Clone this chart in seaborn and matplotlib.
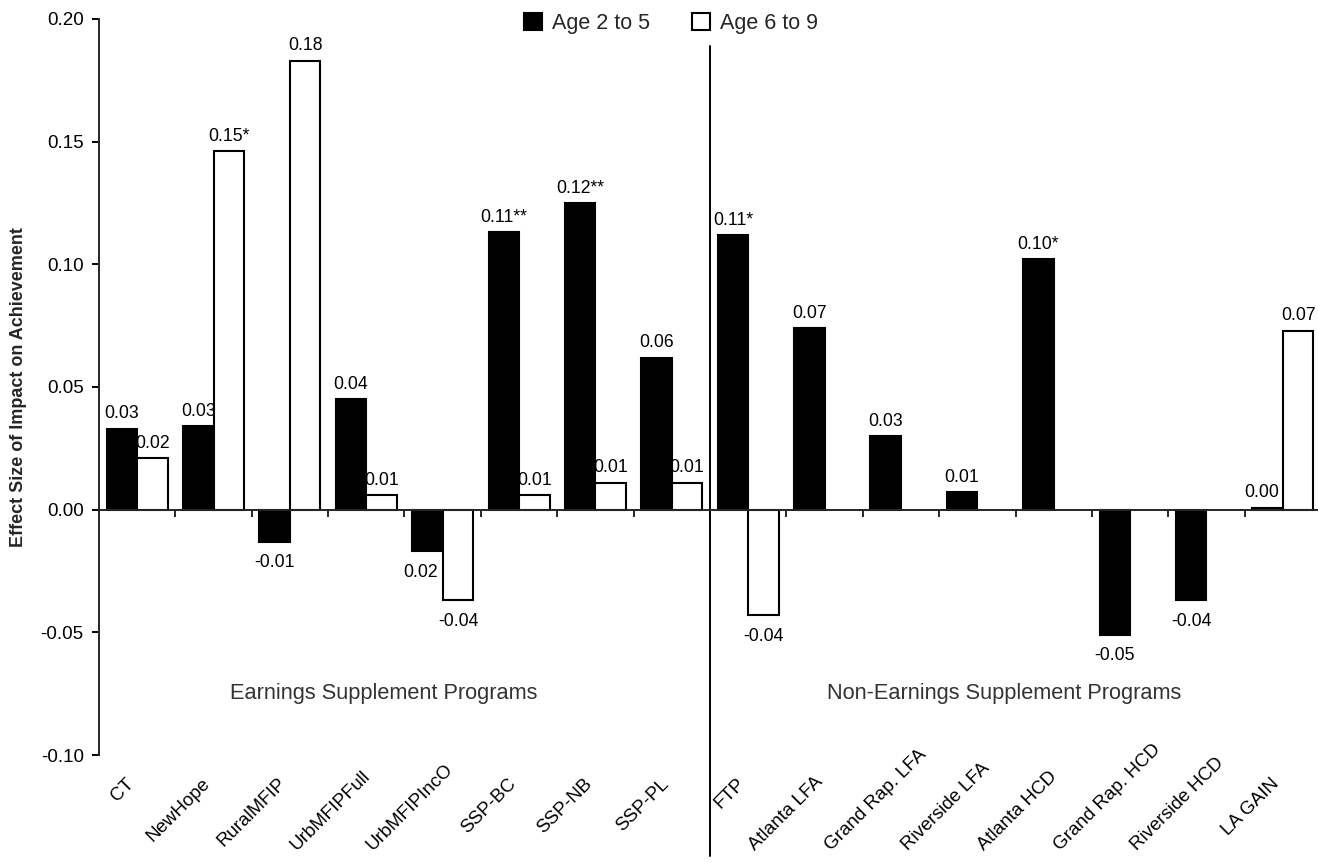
import numpy as np
import pandas as pd
import matplotlib
matplotlib.use("Agg")
import matplotlib.pyplot as plt
import matplotlib.transforms as mtransforms
from matplotlib.patches import Patch
import seaborn as sns

# ---------------- data ----------------
programs = ["CT", "NewHope", "RuralMFIP", "UrbMFIPFull", "UrbMFIPIncO", "SSP-BC",
            "SSP-NB", "SSP-PL", "FTP", "Atlanta LFA", "Grand Rap. LFA",
            "Riverside LFA", "Atlanta HCD", "Grand Rap. HCD", "Riverside HCD", "LA GAIN"]
age_2_5 = [0.033, 0.034, -0.013, 0.045, -0.017, 0.113, 0.125, 0.062,
           0.112, 0.074, 0.030, 0.007, 0.102, -0.051, -0.037, 0.0008]
age_6_9 = [0.021, 0.146, 0.183, 0.006, -0.037, 0.006, 0.011, 0.011,
           -0.043, np.nan, np.nan, np.nan, np.nan, np.nan, np.nan, 0.073]
labels_2_5 = ["0.03", "0.03", "-0.01", "0.04", "0.02", "0.11**", "0.12**", "0.06",
              "0.11*", "0.07", "0.03", "0.01", "0.10*", "-0.05", "-0.04", "0.00"]
labels_6_9 = ["0.02", "0.15*", "0.18", "0.01", "-0.04", "0.01", "0.01", "0.01",
              "-0.04", "", "", "", "", "", "", "0.07"]
groups = ["Age 2 to 5", "Age 6 to 9"]
group_titles = ["Earnings Supplement Programs", "Non-Earnings Supplement Programs"]
yticks = [-0.10, -0.05, 0.00, 0.05, 0.10, 0.15, 0.20]
ytick_labels = ["-0.10", "-0.05", "0.00", "0.05", "0.10", "0.15", "0.20"]
ylabel = "Effect Size of Impact on Achievement"

df = pd.DataFrame({
    "program": programs * 2,
    "age": [groups[0]] * len(programs) + [groups[1]] * len(programs),
    "value": age_2_5 + age_6_9,
    "label": labels_2_5 + labels_6_9,
}).dropna(subset=["value"])

# ---------------- style ----------------
sns.set_style("ticks")
plt.rcParams["font.family"] = ["Liberation Sans", "DejaVu Sans"]
plt.rcParams["axes.linewidth"] = 1.4

fig = plt.figure(figsize=(13.18, 8.63), dpi=100)
ax = fig.add_axes([0.0751, 0.1251, 0.9272, 0.853])

colors = {groups[0]: "black", groups[1]: "white"}
sns.barplot(data=df, x="program", y="value", hue="age", order=programs,
            hue_order=groups, palette=colors, edgecolor="black", linewidth=1.5,
            width=0.8, errorbar=None, legend=False, ax=ax, saturation=1)

# value labels
label_lookup = {(r.program, r.age): r.label for r in df.itertuples()}
nudge = {("UrbMFIPIncO", groups[0]): -5, ("LA GAIN", groups[0]): -4}
for cont, grp in zip(ax.containers, groups):
    for bar in cont:
        h = bar.get_height()
        if not np.isfinite(h):
            continue
        cx = bar.get_x() + bar.get_width() / 2
        prog = programs[int(round(cx))]
        txt = label_lookup.get((prog, grp), "")
        if not txt:
            continue
        dx = nudge.get((prog, grp), 0)
        if h >= 0:
            ax.annotate(txt, (cx, h), xytext=(dx, 4.5), textcoords="offset points",
                        ha="center", va="bottom", fontsize=12.7, color="black")
        else:
            ax.annotate(txt, (cx, h), xytext=(dx, -9), textcoords="offset points",
                        ha="center", va="top", fontsize=12.7, color="black")

# axes
ax.set_ylim(-0.10, 0.20)
ax.set_xlim(-0.5, len(programs) - 0.5)
ax.set_yticks(yticks, labels=ytick_labels)
ax.tick_params(axis="y", length=5, width=1.4, labelsize=13.5, pad=6, colors="black")
for s in ["top", "right"]:
    ax.spines[s].set_visible(False)
ax.spines["bottom"].set_position(("data", 0))
ax.set_xticks(np.arange(0.5, len(programs) - 0.5, 1.0))
ax.set_xticklabels([])
ax.tick_params(axis="x", length=5, width=1.4, direction="out")
ax.set_xlabel("")
ax.set_ylabel(ylabel, fontsize=13, fontweight="bold")
ax.yaxis.set_label_coords(-0.059, 0.5)

# category labels (rotated) below the plot area
blend = mtransforms.blended_transform_factory(ax.transData, ax.transAxes)
base_dx, base_dy = -12, -20  # pixels
cat_texts = []
for i, name in enumerate(programs):
    off = mtransforms.ScaledTranslation(base_dx / 100, base_dy / 100, fig.dpi_scale_trans)
    t = ax.text(i, 0, name, transform=blend + off, rotation=45, ha="right", va="top",
                rotation_mode="anchor", fontsize=13.5, color="black", clip_on=False)
    cat_texts.append(t)

fig.canvas.draw()
renderer = fig.canvas.get_renderer()
limit = 9  # display pixels from the bottom edge
for i, t in enumerate(cat_texts):
    ext = t.get_window_extent(renderer)
    if ext.y0 < limit:
        s = limit - ext.y0
        off = mtransforms.ScaledTranslation((base_dx + s) / 100, (base_dy + s) / 100,
                                            fig.dpi_scale_trans)
        t.set_transform(blend + off)

# divider line between groups
ax.plot([7.5, 7.5], [0.189, -0.141], color="black", lw=1.4, clip_on=False)

# group titles
ax.text(3.23, -0.075, group_titles[0], ha="center", va="center", fontsize=15.7, color="#333333")
ax.text(11.35, -0.075, group_titles[1], ha="center", va="center", fontsize=15.7, color="#333333")

# legend
handles = [Patch(facecolor=colors[g], edgecolor="black", linewidth=1.5) for g in groups]
fig.legend(handles, groups, loc="center", bbox_to_anchor=(0.509, 0.973), ncol=2,
           frameon=False, fontsize=15.5, handlelength=0.84, handleheight=0.84,
           handletextpad=0.46, columnspacing=1.95)

fig.savefig("out.png", dpi=100)
